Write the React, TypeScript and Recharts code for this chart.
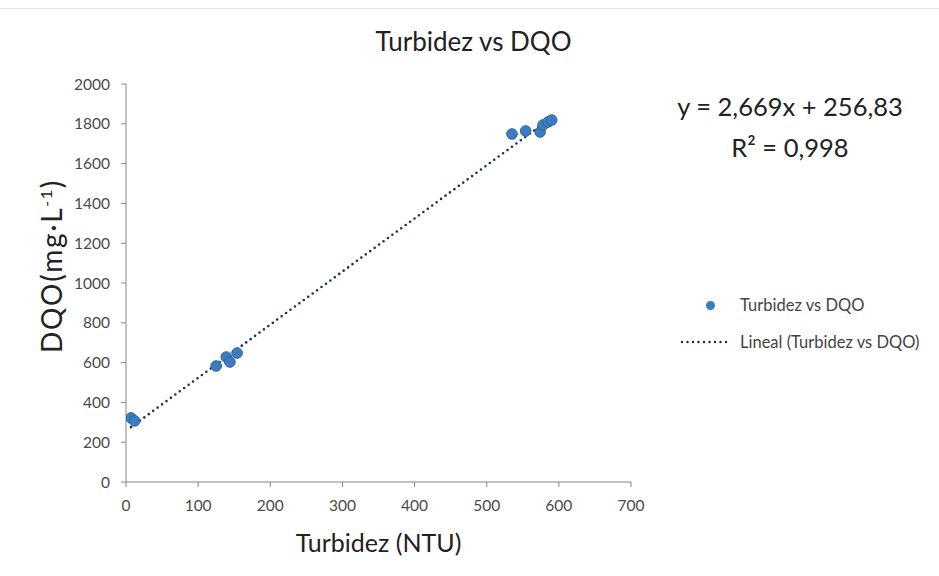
import { ScatterChart, Scatter, XAxis, YAxis, Label } from "recharts";

const turbidez = [7, 12, 125, 139, 144, 154, 535, 554, 574, 578, 585, 590];
const dqo = [322, 307, 583, 628, 603, 648, 1749, 1764, 1759, 1794, 1809, 1819];
const xTicks = [0, 100, 200, 300, 400, 500, 600, 700];
const yTicks = [0, 200, 400, 600, 800, 1000, 1200, 1400, 1600, 1800, 2000];
const slope = 2.669;
const intercept = 256.83;
const trendX = [7, 590];

const points = turbidez.map((x, i) => ({ x, y: dqo[i] }));
const trend = trendX.map((x) => ({ x, y: slope * x + intercept }));

const FONT = "Lato, 'Open Sans', sans-serif";
const POINT = "#3b7dc0";
const TREND = "#1f3050";
const TICK = { fill: "#4a4a4a", fontSize: 15.5, fontFamily: FONT };

const Dot = (props: any) => {
  const { cx, cy } = props;
  return <circle cx={cx} cy={cy} r={5.3} fill={POINT} stroke="#2d66a3" strokeWidth={1} />;
};

const YTitle = (props: any) => {
  const { viewBox } = props;
  const cy = viewBox.y + viewBox.height / 2 - 17;
  const cx = 62;
  return (
    <text
      x={cx}
      y={cy}
      transform={`rotate(-90 ${cx} ${cy})`}
      textAnchor="middle"
      fontSize={28}
      letterSpacing={1.7}
      fill="#222"
      fontFamily={FONT}
    >
      DQO(mg·L<tspan dy={-10} fontSize={16}>-1</tspan>
      <tspan dy={10}>)</tspan>
    </text>
  );
};

export default function App() {
  return (
    <div style={{ position: "absolute", left: 0, top: 0, width: 939, height: 576, background: "#fff", fontFamily: FONT }}>
      <div style={{ position: "absolute", left: 0, right: 0, top: 8, height: 1, background: "#e4e4e4" }} />
      <div style={{ position: "absolute", left: 0, width: 939, top: 25, textAlign: "center", fontSize: 26, color: "#222", paddingLeft: 4 }}>
        Turbidez vs DQO
      </div>
      <div style={{ position: "absolute", left: 660, width: 260, top: 86, textAlign: "center", fontSize: 25.5, lineHeight: "41px", color: "#222" }}>
        <div>y = 2,669x + 256,83</div>
        <div>R² = 0,998</div>
      </div>
      <div style={{ position: "absolute", left: 680, top: 293, fontSize: 16.5, color: "#444" }}>
        <div style={{ display: "flex", alignItems: "center", height: 24 }}>
          <span style={{ width: 60, display: "flex", justifyContent: "center" }}>
            <span style={{ width: 9, height: 9, borderRadius: 5, background: POINT, marginLeft: 0 }} />
          </span>
          <span>Turbidez vs DQO</span>
        </div>
        <div style={{ display: "flex", alignItems: "center", height: 24, marginTop: 13 }}>
          <svg width={60} height={10}>
            <line x1={2} y1={5} x2={50} y2={5} stroke={TREND} strokeWidth={2.5} strokeDasharray="0 5.5" strokeLinecap="round" />
          </svg>
          <span>Lineal (Turbidez vs DQO)</span>
        </div>
      </div>
      <ScatterChart width={939} height={576} margin={{ top: 84, right: 308, bottom: 64, left: 66 }} style={{ position: "absolute", left: 0, top: 0 }}>
        <XAxis
          type="number"
          dataKey="x"
          domain={[0, 700]}
          ticks={xTicks}
          height={30}
          stroke="#868686"
          tickSize={5}
          tickMargin={13}
          tick={TICK}
          allowDataOverflow
        >
          <Label value="Turbidez (NTU)" position="bottom" offset={22} fill="#222" fontSize={25} fontFamily={FONT} />
        </XAxis>
        <YAxis
          type="number"
          dataKey="y"
          domain={[0, 2000]}
          ticks={yTicks}
          width={60}
          stroke="#868686"
          tickSize={5}
          tickMargin={11}
          tick={TICK}
          allowDataOverflow
        >
          <Label content={<YTitle />} />
        </YAxis>
        <Scatter
          data={trend}
          line={{ stroke: TREND, strokeWidth: 2.6, strokeDasharray: "0 5.5", strokeLinecap: "round" }}
          shape={() => <g />}
          isAnimationActive={false}
        />
        <Scatter data={points} shape={<Dot />} isAnimationActive={false} />
      </ScatterChart>
    </div>
  );
}
